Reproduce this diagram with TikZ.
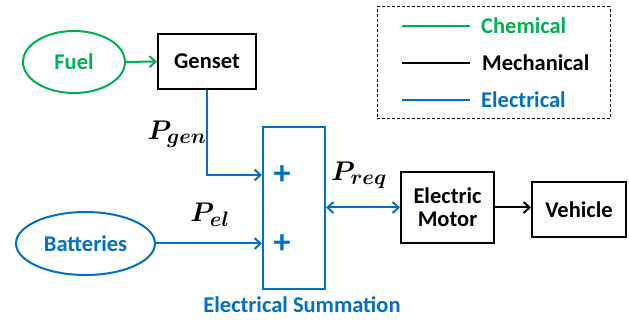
\RequirePackage{fix-cm}
\documentclass[tikz,border=0pt]{standalone}
\usepackage{amsmath}
\usepackage{fontspec}
\setmainfont{Carlito}
\usepackage{tikz}
\usetikzlibrary{shapes.geometric,arrows.meta}
\definecolor{leaf}{HTML}{00B050}
\definecolor{ocean}{HTML}{0070C0}
\DeclareMathSizes{27}{27}{21}{15}

\begin{document}
\begin{tikzpicture}[x=1pt,y=-1pt,
  lbl/.style={font=\fontsize{22.5}{27}\selectfont\bfseries},
  blk/.style={draw,line width=2pt,lbl,align=center,inner sep=0pt},
  src/.style={ellipse,draw,line width=2pt,lbl,inner sep=0pt},
  sym/.style={font=\fontsize{27}{30}\selectfont\boldmath},
  barb/.tip={Straight Barb[length=6pt,width=11pt,line width=2pt]},
  tip/.style={-barb}]
\useasboundingbox (0,0) rectangle (629,320);
% sources and blocks
\node[src,leaf,minimum width=102,minimum height=62] (fuel) at (74,62) {Fuel};
\node[blk,minimum width=98,minimum height=55] (genset) at (207,61.5) {Genset};
\node[src,ocean,minimum width=139,minimum height=63] (batt) at (85.5,243.5) {Batteries};
\node[blk,ocean,minimum width=62,minimum height=162] (sum) at (294,208) {};
\node[font=\fontsize{34}{34}\selectfont\bfseries,ocean] (plusA) at (282,175) {+};
\node[font=\fontsize{34}{34}\selectfont\bfseries,ocean] (plusB) at (282,244) {+};
\node[lbl,ocean] (sumtxt) at (302,305) {Electrical Summation};
\node[blk,minimum width=93,minimum height=71] (motor) at (447.5,207.5) {Electric\\[-4pt]Motor};
\node[blk,minimum width=94,minimum height=55] (vehicle) at (579,209.5) {Vehicle};
% flows
\draw[leaf,line width=2pt,tip] (fuel) -- (genset);
\draw[ocean,line width=2pt,tip] (genset.south) |- (plusA -| sum.west);
\draw[ocean,line width=2pt,tip] (batt.east) -- (batt.east -| sum.west);
\draw[ocean,line width=2pt,barb-barb] (motor.west -| sum.east) -- (motor.west);
\draw[line width=2pt,tip] (motor.east) -- (motor.east -| vehicle.west);
\node[sym] (pgen) at (177,134) {$P_{gen}$};
\node[sym] (pel) at (210,215) {$P_{el}$};
\node[sym] (preq) at (359,175) {$P_{req}$};
% legend
\node[draw,line width=1pt,dash pattern=on 3pt off 2pt,minimum width=233,minimum height=112] (key) at (493.5,63) {};
\coordinate (chemA) at (402,26); \coordinate (chemB) at (470,26);
\coordinate (mechA) at (402,63); \coordinate (mechB) at (470,63);
\coordinate (elecA) at (402,100); \coordinate (elecB) at (470,100);
\draw[leaf,line width=2pt] (chemA) -- (chemB); \node[lbl,leaf,anchor=west,inner sep=0pt] (chem) at (481,26) {Chemical};
\draw[line width=2pt] (mechA) -- (mechB); \node[lbl,anchor=west,inner sep=0pt] (mech) at (482,63) {Mechanical};
\draw[ocean,line width=2pt] (elecA) -- (elecB); \node[lbl,ocean,anchor=west,inner sep=0pt] (elec) at (481,100) {Electrical};
\end{tikzpicture}
\end{document}
